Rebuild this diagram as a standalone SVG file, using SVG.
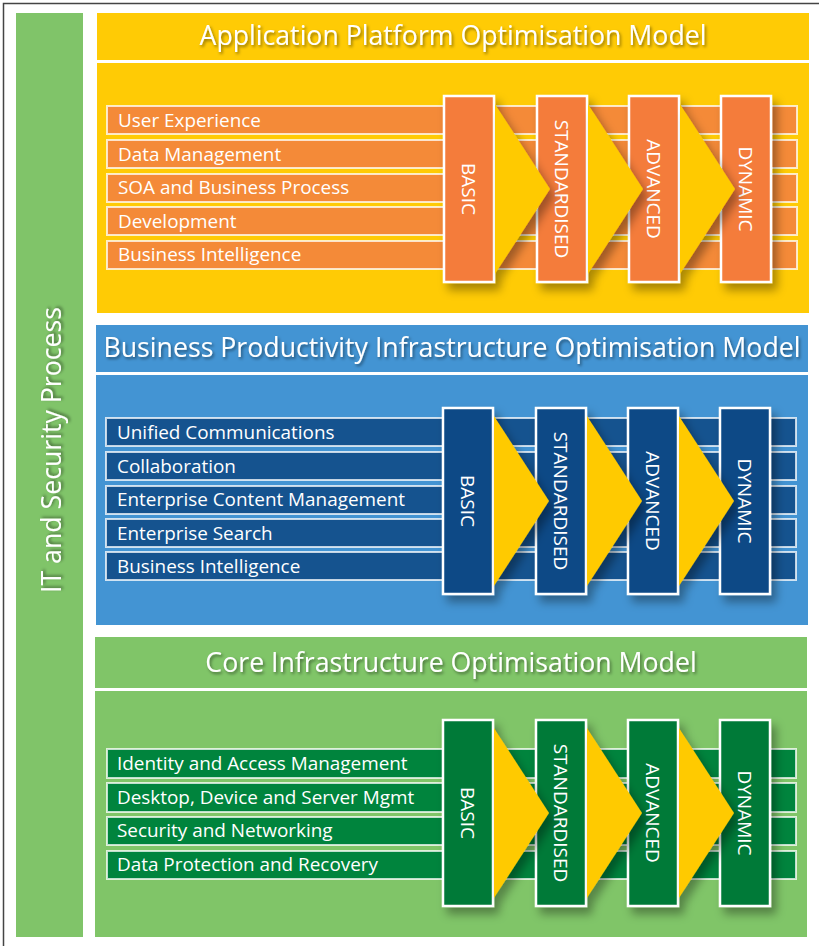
<svg xmlns="http://www.w3.org/2000/svg" width="819" height="946" viewBox="0 0 819 946">
<style>
text{font-family:"Open Sans","Liberation Sans",sans-serif;fill:#fff}
.title{font-size:26.7px;text-anchor:middle}
.row{font-size:18.9px}
.stage{font-size:19px;text-anchor:middle;dominant-baseline:central}
.rowbox{stroke:#fff;stroke-opacity:0.75;stroke-width:2}
.box{stroke:#fff;stroke-width:2.5}
.y .rowbox{fill:#f48a38}.y .box{fill:#f47b3b}
.b .rowbox{fill:#15538f}.b .box{fill:#0a4886}
.g .rowbox{fill:#00843d}.g .box{fill:#007a37}
.chev{fill:#ffca05}
</style>
<defs>
<filter id="sh" x="-30%" y="-20%" width="180%" height="150%">
<feDropShadow dx="5" dy="7" stdDeviation="5" flood-color="#000" flood-opacity="0.35"/>
</filter>
<filter id="tsh" x="-10%" y="-30%" width="120%" height="160%">
<feDropShadow dx="1.5" dy="2" stdDeviation="1.5" flood-color="#000" flood-opacity="0.45"/>
</filter>
</defs>
<rect x="0" y="0" width="819" height="946" fill="#fff"/>
<rect x="3.5" y="3.5" width="840" height="960" fill="none" stroke="#444" stroke-width="1.5"/>

<g id="it-security">
<rect x="16" y="13" width="67" height="924" fill="#80c469"/>
<text class="title" font-size="25.5" transform="translate(50,450) rotate(-90)" dominant-baseline="central" filter="url(#tsh)">IT and Security Process</text>
</g>

<!-- Application Platform -->
<g id="app-platform" class="y">
<rect x="97" y="13" width="712" height="47" fill="#ffcb05"/>
<rect x="97" y="63" width="712" height="250" fill="#ffcb05"/>
<text class="title" x="453" y="45" filter="url(#tsh)">Application Platform Optimisation Model</text>
<g id="app-rows">
<rect class="rowbox" x="107" y="106" width="690" height="28"/>
<rect class="rowbox" x="107" y="140" width="690" height="28"/>
<rect class="rowbox" x="107" y="174" width="690" height="28"/>
<rect class="rowbox" x="107" y="207" width="690" height="28"/>
<rect class="rowbox" x="107" y="241" width="690" height="28"/>
<text class="row" x="118" y="127">User Experience</text>
<text class="row" x="118" y="161">Data Management</text>
<text class="row" x="118" y="194">SOA and Business Process</text>
<text class="row" x="118" y="228">Development</text>
<text class="row" x="118" y="261">Business Intelligence</text>
</g>
<g id="app-basic"><rect class="box" x="444" y="96" width="50" height="186" filter="url(#sh)"/><text class="stage" transform="translate(469,189) rotate(90)">BASIC</text></g>
<g id="app-standardised"><rect class="box" x="537" y="96" width="50" height="186" filter="url(#sh)"/><text class="stage" transform="translate(562,189) rotate(90)">STANDARDISED</text></g>
<g id="app-advanced"><rect class="box" x="629" y="96" width="50" height="186" filter="url(#sh)"/><text class="stage" transform="translate(654,189) rotate(90)">ADVANCED</text></g>
<g id="app-dynamic"><rect class="box" x="721" y="96" width="50" height="186" filter="url(#sh)"/><text class="stage" transform="translate(746,189) rotate(90)">DYNAMIC</text></g>
</g>

<!-- Business Productivity -->
<g id="bus-productivity" class="b">
<rect x="96" y="325" width="712" height="47" fill="#4394d3"/>
<rect x="96" y="375" width="712" height="250" fill="#4394d3"/>
<text class="title" x="452" y="357" filter="url(#tsh)">Business Productivity Infrastructure Optimisation Model</text>
<g id="bus-rows">
<rect class="rowbox" x="106" y="418" width="690" height="28"/>
<rect class="rowbox" x="106" y="452" width="690" height="28"/>
<rect class="rowbox" x="106" y="486" width="690" height="28"/>
<rect class="rowbox" x="106" y="519" width="690" height="28"/>
<rect class="rowbox" x="106" y="552" width="690" height="28"/>
<text class="row" x="117" y="439">Unified Communications</text>
<text class="row" x="117" y="473">Collaboration</text>
<text class="row" x="117" y="506">Enterprise Content Management</text>
<text class="row" x="117" y="540">Enterprise Search</text>
<text class="row" x="117" y="573">Business Intelligence</text>
</g>
<g id="bus-basic"><rect class="box" x="443" y="408" width="50" height="186" filter="url(#sh)"/><text class="stage" transform="translate(468,501) rotate(90)">BASIC</text></g>
<g id="bus-standardised"><rect class="box" x="536" y="408" width="50" height="186" filter="url(#sh)"/><text class="stage" transform="translate(561,501) rotate(90)">STANDARDISED</text></g>
<g id="bus-advanced"><rect class="box" x="628" y="408" width="50" height="186" filter="url(#sh)"/><text class="stage" transform="translate(653,501) rotate(90)">ADVANCED</text></g>
<g id="bus-dynamic"><rect class="box" x="720" y="408" width="50" height="186" filter="url(#sh)"/><text class="stage" transform="translate(745,501) rotate(90)">DYNAMIC</text></g>
</g>

<!-- Core Infrastructure -->
<g id="core-infra" class="g">
<rect x="95" y="637" width="712" height="51" fill="#80c568"/>
<rect x="95" y="691" width="712" height="246" fill="#80c568"/>
<text class="title" x="451" y="672" filter="url(#tsh)">Core Infrastructure Optimisation Model</text>
<g id="core-rows">
<rect class="rowbox" x="107" y="749" width="689" height="29"/>
<rect class="rowbox" x="107" y="783" width="689" height="29"/>
<rect class="rowbox" x="107" y="817" width="689" height="28"/>
<rect class="rowbox" x="107" y="851" width="689" height="28"/>
<text class="row" x="117" y="770">Identity and Access Management</text>
<text class="row" x="117" y="804">Desktop, Device and Server Mgmt</text>
<text class="row" x="117" y="837">Security and Networking</text>
<text class="row" x="117" y="871">Data Protection and Recovery</text>
</g>
<g id="core-basic"><rect class="box" x="443" y="720" width="50" height="186" filter="url(#sh)"/><text class="stage" transform="translate(468,813) rotate(90)">BASIC</text></g>
<g id="core-standardised"><rect class="box" x="536" y="720" width="50" height="186" filter="url(#sh)"/><text class="stage" transform="translate(561,813) rotate(90)">STANDARDISED</text></g>
<g id="core-advanced"><rect class="box" x="628" y="720" width="50" height="186" filter="url(#sh)"/><text class="stage" transform="translate(653,813) rotate(90)">ADVANCED</text></g>
<g id="core-dynamic"><rect class="box" x="720" y="720" width="50" height="186" filter="url(#sh)"/><text class="stage" transform="translate(745,813) rotate(90)">DYNAMIC</text></g>
</g>

<g id="connectors" filter="url(#sh)">
<polygon class="chev" points="495,104 550,189 495,274"/>
<polygon class="chev" points="588,104 643,189 588,274"/>
<polygon class="chev" points="680,104 735,189 680,274"/>
<polygon class="chev" points="494,416 549,501 494,586"/>
<polygon class="chev" points="587,416 642,501 587,586"/>
<polygon class="chev" points="679,416 734,501 679,586"/>
<polygon class="chev" points="494,728 549,813 494,898"/>
<polygon class="chev" points="587,728 642,813 587,898"/>
<polygon class="chev" points="679,728 734,813 679,898"/>
</g>
</svg>
